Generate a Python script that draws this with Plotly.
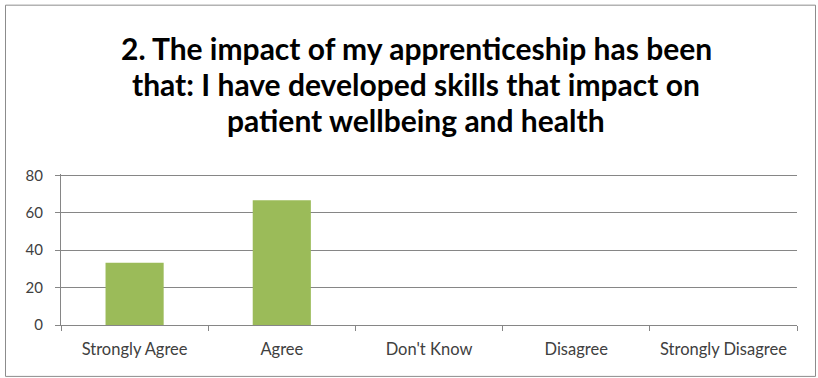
import plotly.graph_objects as go

categories = ["Strongly Agree", "Agree", "Don't Know", "Disagree", "Strongly Disagree"]
percentages = [33.33, 66.67, 0, 0, 0]
y_ticks = [0, 20, 40, 60, 80]
title_lines = [
    "2. The impact of my apprenticeship has been",
    "that: I have developed skills that impact on",
    "patient wellbeing and health",
]

W, H = 818, 378
Y_MAX = 80.7  # a hair of headroom so the 80 gridline is drawn
ML, MR, MB = 61, 21, 53
MT = 325 - 150 * Y_MAX / 80
PW, PH = W - ML - MR, H - MT - MB

def px_x(p):
    return (p - ML) / PW

def px_y(p):
    return 1 - (p - MT) / PH

fig = go.Figure(go.Bar(
    x=categories, y=percentages,
    marker=dict(color="#9BBB59", line=dict(width=0)),
    width=0.395,
))

annotations = []
for i, line in enumerate(title_lines):
    annotations.append(dict(
        text=f"<b>{line}</b>", x=px_x(416), xref="paper", xanchor="center",
        y=px_y(47 + 36.5 * i), yref="paper", yanchor="middle",
        showarrow=False, font=dict(family="Lato", size=30, color="#000000"),
    ))

fig.update_layout(
    width=W, height=H,
    margin=dict(l=ML, r=MR, t=MT, b=MB, pad=0),
    paper_bgcolor="white", plot_bgcolor="white",
    showlegend=False,
    annotations=annotations,
    shapes=[dict(
        type="rect", xref="paper", yref="paper",
        x0=px_x(5.5), x1=px_x(815.5), y0=px_y(4.5), y1=px_y(376.5),
        line=dict(color="#8c8c8c", width=1), fillcolor="rgba(0,0,0,0)", layer="below",
    )],
    font=dict(family="Lato", size=16, color="#404040"),
)
fig.update_yaxes(
    range=[0, Y_MAX], tickvals=y_ticks, ticks="outside", ticklen=5, tickcolor="#868686",
    showgrid=True, gridcolor="#868686", gridwidth=1,
    showline=True, linecolor="#868686", linewidth=1, zeroline=False,
    tickfont=dict(size=15, color="#404040"), ticklabelstandoff=9,
)
fig.update_xaxes(
    tickson="boundaries", ticks="outside", ticklen=5, tickcolor="#868686",
    showline=True, linecolor="#868686", linewidth=1, showgrid=False,
    tickfont=dict(size=16.5, color="#404040"), ticklabelstandoff=9,
)

fig.write_html("out.html")
